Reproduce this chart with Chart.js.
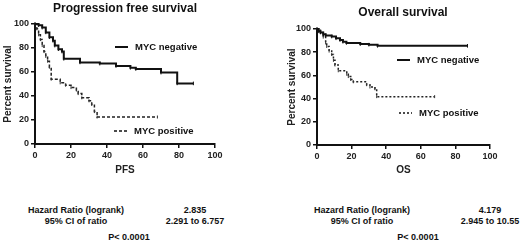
<!DOCTYPE html>
<html lang="en">
<head>
<meta charset="UTF-8">
<title>Kaplan-Meier: MYC</title>
<script src="https://cdn.jsdelivr.net/npm/chart.js"></script>
<style>
    body { margin: 0; background: #fff; width: 520px; height: 243px; overflow: hidden; position: relative;
           font-family: "Liberation Sans", Arial, sans-serif; font-weight: bold; color: #111; }
    canvas { position: absolute; top: 0; }
    #pfsChart { left: 0; }
    #osChart { left: 260px; }
    .t { position: absolute; white-space: nowrap; transform: translate(-50%, -50%); }
    .title { font-size: 12px; }
    .stat { font-size: 9px; }
</style>
</head>
<body>
<canvas id="pfsChart" width="260" height="178"></canvas>
<canvas id="osChart" width="260" height="178"></canvas>

<div class="t title" style="left:125px;top:8px">Progression free survival</div>
<div class="t title" style="left:403px;top:12px">Overall survival</div>

<div class="t stat" style="left:76px;top:210px">Hazard Ratio (logrank)</div>
<div class="t stat" style="left:76px;top:221px">95% CI of ratio</div>
<div class="t stat" style="left:195px;top:210px">2.835</div>
<div class="t stat" style="left:195px;top:221px">2.291 to 6.757</div>
<div class="t stat" style="left:129px;top:237px">P&lt; 0.0001</div>

<div class="t stat" style="left:362px;top:210px">Hazard Ratio (logrank)</div>
<div class="t stat" style="left:362px;top:221px">95% CI of ratio</div>
<div class="t stat" style="left:490px;top:210px">4.179</div>
<div class="t stat" style="left:490px;top:221px">2.945 to 10.55</div>
<div class="t stat" style="left:418px;top:237px">P&lt; 0.0001</div>

<script>
// PFS, MYC negative: time of each drop and survival after it
const pfsNegTime = [0, 2, 4, 6, 8, 10, 11, 13, 15, 16, 25, 36, 45, 53, 56, 70, 79, 88];
const pfsNegSurv = [100, 99, 97, 93, 89, 86, 82, 79, 77, 71, 68, 67, 65, 63.5, 62.5, 59.5, 50.5, 50.5];
// PFS, MYC positive
const pfsPosTime = [0, 1, 2, 3, 4, 5, 6, 7, 8, 9, 14, 17, 20, 23, 24, 26, 30, 31.5, 33, 34.5, 68];
const pfsPosSurv = [100, 96, 91, 87, 82, 77, 73, 69, 64, 54, 51, 49, 47, 45, 42, 38.5, 36, 33, 27, 22.5, 22.5];
// OS, MYC negative
const osNegTime = [0, 1, 2, 3.6, 5, 8.5, 11, 13.3, 15, 17, 25, 30, 35, 87];
const osNegSurv = [100, 98, 97, 95.5, 94.5, 93.5, 92, 90.5, 89, 88, 87, 86.5, 85.5, 85.5];
// OS, MYC positive
const osPosTime = [0, 2, 3.6, 5, 5.6, 7, 8.5, 9.5, 10.4, 12.3, 17.2, 18.1, 19.5, 21, 28.7, 30.6, 33.5, 34.5, 68];
const osPosSurv = [100, 97, 93, 88, 85, 81, 78, 73, 69, 64, 61, 59, 56.5, 54.5, 52, 50, 48.5, 41.7, 41.7];

const axisTicks = [0, 20, 40, 60, 80, 100];
const seriesNames = ['MYC negative', 'MYC positive'];

const FONT = '"Liberation Sans", Arial, sans-serif';

function pts(xs, ys) {
    return xs.map((x, i) => ({ x: x, y: ys[i] }));
}

// draws the in-plot legend next to each series
const inlineLegend = {
    id: 'inlineLegend',
    afterDraw(chart, args, opts) {
        const ctx = chart.ctx;
        ctx.save();
        chart.data.datasets.forEach((ds, i) => {
            const p = opts.spots[i];
            ctx.strokeStyle = '#111';
            ctx.lineWidth = ds.borderWidth;
            ctx.setLineDash(ds.borderDash || []);
            ctx.beginPath();
            ctx.moveTo(p[0], p[1]);
            ctx.lineTo(p[0] + 13, p[1]);
            ctx.stroke();
            ctx.setLineDash([]);
            ctx.fillStyle = '#111';
            ctx.font = 'bold 9.5px ' + FONT;
            ctx.textBaseline = 'middle';
            ctx.fillText(ds.label, p[0] + 20, p[1]);
        });
        ctx.restore();
    }
};

function makeChart(id, neg, pos, posDash, xTitle, pad, yWidth, xHeight, spots) {
    new Chart(document.getElementById(id), {
        type: 'line',
        data: {
            datasets: [{
                label: seriesNames[0],
                data: neg,
                borderColor: '#111',
                borderWidth: 2,
                stepped: 'before',
                pointStyle: 'line',
                rotation: 90,
                pointRadius: 1.8,
                pointBorderWidth: 1,
                pointBorderColor: '#111'
            }, {
                label: seriesNames[1],
                data: pos,
                borderColor: '#222',
                borderWidth: 1.5,
                borderDash: posDash,
                stepped: 'before',
                pointStyle: 'line',
                rotation: 90,
                pointRadius: 1.5,
                pointBorderWidth: 1,
                pointBorderColor: '#333'
            }]
        },
        options: {
            responsive: false,
            animation: false,
            devicePixelRatio: 1,
            clip: false,
            layout: { padding: pad },
            plugins: {
                legend: { display: false },
                tooltip: { enabled: false },
                inlineLegend: { spots: spots }
            },
            scales: {
                x: {
                    type: 'linear',
                    min: 0, max: 100,
                    afterBuildTicks: s => { s.ticks = axisTicks.map(v => ({ value: v })); },
                    afterFit: s => { s.height = xHeight; },
                    border: { color: '#111', width: 2 },
                    grid: { drawOnChartArea: false, tickLength: 4, color: '#111', lineWidth: 1.5 },
                    ticks: { color: '#222', padding: 2, font: { family: FONT, size: 9, weight: 'bold' } },
                    title: { display: true, text: xTitle, color: '#222', padding: { top: 4, bottom: 2 },
                             font: { family: FONT, size: 10, weight: 'bold' } }
                },
                y: {
                    min: 0, max: 100,
                    afterBuildTicks: s => { s.ticks = axisTicks.map(v => ({ value: v })); },
                    afterFit: s => { s.width = yWidth; },
                    border: { color: '#111', width: 2 },
                    grid: { drawOnChartArea: false, tickLength: 4, color: '#111', lineWidth: 1.5 },
                    ticks: { color: '#222', padding: 2, font: { family: FONT, size: 9, weight: 'bold' } },
                    title: { display: true, text: 'Percent survival', color: '#222', padding: { top: 2, bottom: 0 },
                             font: { family: FONT, size: 10, weight: 'bold' } }
                }
            }
        },
        plugins: [inlineLegend]
    });
}

makeChart('pfsChart', pts(pfsNegTime, pfsNegSurv), pts(pfsPosTime, pfsPosSurv), [3, 2], 'PFS',
    { top: 24, right: 45, left: 0, bottom: 0 }, 35, 34, [[115, 47], [114, 131]]);
makeChart('osChart', pts(osNegTime, osNegSurv), pts(osPosTime, osPosSurv), [2, 2], 'OS',
    { top: 29, right: 30, left: 24, bottom: 0 }, 33, 33, [[137, 60], [139, 113]]);
</script>
</body>
</html>
